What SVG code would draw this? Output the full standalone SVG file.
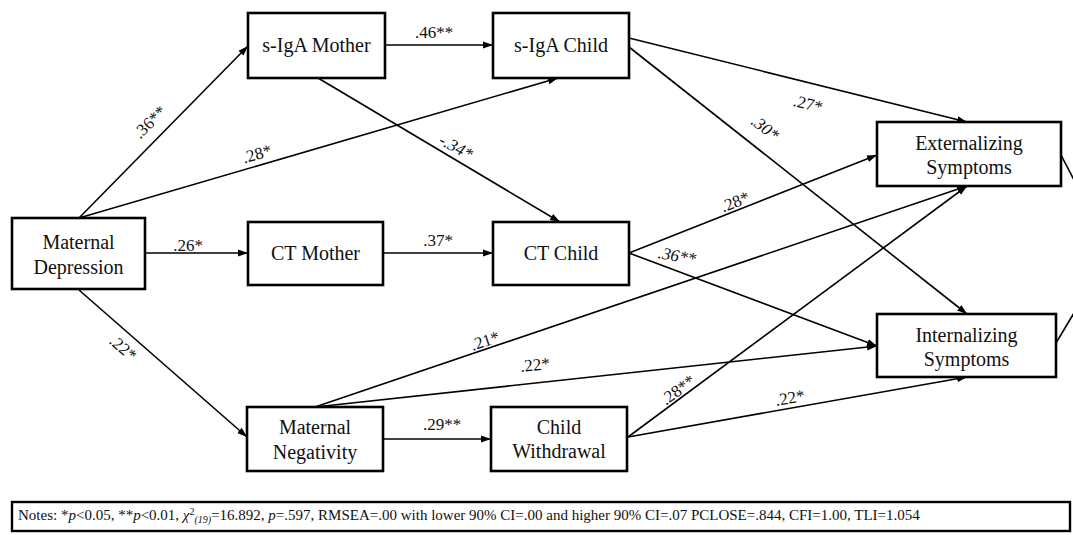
<svg xmlns="http://www.w3.org/2000/svg" width="1073" height="535" viewBox="0 0 1073 535">
<style>
.box{fill:#fff;stroke:#000;stroke-width:2.6}
.nt{font-family:"Liberation Serif","Times New Roman",serif;font-size:20px;fill:#111;text-anchor:middle}
.el{font-family:"Liberation Serif","Times New Roman",serif;font-size:17px;fill:#111;text-anchor:middle}
.it{font-style:italic}
.edge{stroke:#000;stroke-width:1.6;fill:none;marker-end:url(#ah)}
.plain{stroke:#000;stroke-width:1.6;fill:none}
.note{font-family:"Liberation Serif","Times New Roman",serif;font-size:15px;fill:#111}
</style>
<defs>
<marker id="ah" markerUnits="userSpaceOnUse" markerWidth="10" markerHeight="8" refX="10" refY="4" orient="auto">
<path d="M0,0.5 L10,4 L0,7.5 z" fill="#000"/>
</marker>
</defs>
<rect width="1073" height="535" fill="#fff"/>
<g id="connectors">
<line class="edge" x1="79" y1="218" x2="248" y2="46"/>
<line class="edge" x1="79" y1="218" x2="558" y2="78"/>
<line class="edge" x1="145" y1="253" x2="248" y2="253"/>
<line class="edge" x1="79" y1="290" x2="247" y2="437"/>
<line class="edge" x1="385" y1="45" x2="493" y2="45"/>
<line class="edge" x1="318" y1="78" x2="560" y2="222"/>
<line class="edge" x1="383" y1="253" x2="493" y2="253"/>
<line class="edge" x1="383" y1="439" x2="491" y2="439"/>
<line class="edge" x1="629" y1="38" x2="967" y2="122"/>
<line class="edge" x1="629" y1="47" x2="967" y2="314"/>
<line class="edge" x1="629" y1="253" x2="877" y2="155"/>
<line class="edge" x1="629" y1="253" x2="877" y2="346"/>
<line class="edge" x1="315" y1="407" x2="967" y2="186"/>
<line class="edge" x1="315" y1="407" x2="877" y2="346"/>
<line class="edge" x1="628" y1="437" x2="967" y2="186"/>
<line class="edge" x1="628" y1="437" x2="967" y2="377"/>
<line class="plain" x1="1061" y1="155" x2="1074" y2="180"/>
<line class="plain" x1="1056" y1="343" x2="1074" y2="313"/>
<g id="edge-labels">
<text class="el" transform="translate(150,122) rotate(-45)" y="5.5">.36**</text>
<text class="el" transform="translate(257,154) rotate(-16.3)" y="5.5">.28*</text>
<text class="el" x="188" y="250.5">.26*</text>
<text class="el" transform="translate(123,348) rotate(41)" y="5.5">.22*</text>
<text class="el" x="434" y="37.5">.46**</text>
<text class="el it" transform="translate(456,147) rotate(28)" y="5.5">-.34*</text>
<text class="el" x="438" y="245.5">.37*</text>
<text class="el it" transform="translate(677,256) rotate(10)" y="5.5">.36**</text>
<text class="el" transform="translate(735,202) rotate(-21.6)" y="5.5">.28*</text>
<text class="el it" transform="translate(765,128) rotate(38)" y="5.5">.30*</text>
<text class="el" transform="translate(808,104) rotate(14)" y="5.5">.27*</text>
<text class="el" transform="translate(485,341) rotate(-18.7)" y="5.5">.21*</text>
<text class="el" transform="translate(535,365) rotate(-6.2)" y="5.5">.22*</text>
<text class="el" x="442" y="429.5">.29**</text>
<text class="el" transform="translate(678,390) rotate(-36.5)" y="5.5">.28**</text>
<text class="el" transform="translate(790,398) rotate(-10)" y="5.5">.22*</text>
</g>
</g>
<g id="maternal-depression">
<rect class="box" x="12" y="218" width="133" height="71"/>
<text class="nt" x="78.5" y="249">Maternal</text>
<text class="nt" x="78.5" y="274">Depression</text>
</g>
<g id="siga-mother">
<rect class="box" x="248" y="13" width="137" height="65"/>
<text class="nt" x="316.5" y="52">s-IgA Mother</text>
</g>
<g id="siga-child">
<rect class="box" x="493" y="13" width="136" height="65"/>
<text class="nt" x="561" y="52">s-IgA Child</text>
</g>
<g id="ct-mother">
<rect class="box" x="248" y="222" width="135" height="63"/>
<text class="nt" x="315.5" y="260">CT Mother</text>
</g>
<g id="ct-child">
<rect class="box" x="493" y="222" width="136" height="63"/>
<text class="nt" x="561" y="260">CT Child</text>
</g>
<g id="maternal-negativity">
<rect class="box" x="247" y="407" width="136" height="64"/>
<text class="nt" x="315" y="434">Maternal</text>
<text class="nt" x="315" y="459">Negativity</text>
</g>
<g id="child-withdrawal">
<rect class="box" x="491" y="407" width="136" height="64"/>
<text class="nt" x="559" y="434">Child</text>
<text class="nt" x="559" y="458">Withdrawal</text>
</g>
<g id="externalizing">
<rect class="box" x="877" y="122" width="184" height="64"/>
<text class="nt" x="969" y="150">Externalizing</text>
<text class="nt" x="969" y="174">Symptoms</text>
</g>
<g id="internalizing">
<rect class="box" x="877" y="314" width="179" height="63"/>
<text class="nt" x="966.5" y="342">Internalizing</text>
<text class="nt" x="966.5" y="366">Symptoms</text>
</g>
<g id="notes">
<rect x="12" y="502" width="1058" height="29" fill="#fff" stroke="#000" stroke-width="2.4"/>
<text class="note" x="18" y="520">Notes: *<tspan font-style="italic">p</tspan>&lt;0.05, **<tspan font-style="italic">p</tspan>&lt;0.01, <tspan font-style="italic">χ</tspan><tspan font-size="10" dy="-5">2</tspan><tspan font-size="10" font-style="italic" dy="8">(19)</tspan><tspan dy="-3">=16.892, </tspan><tspan font-style="italic">p</tspan>=.597, RMSEA=.00 with lower 90% CI=.00 and higher 90% CI=.07 PCLOSE=.844, CFI=1.00, TLI=1.054</text>
</g>
</svg>
